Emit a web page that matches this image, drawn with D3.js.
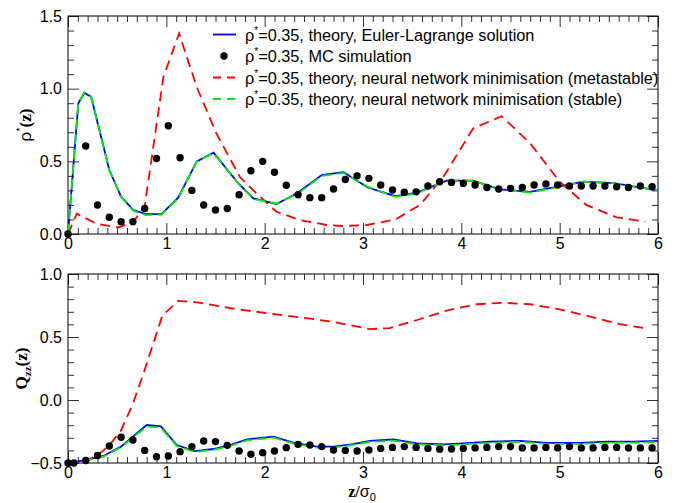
<!DOCTYPE html>
<html>
<head>
<meta charset="utf-8">
<script src="https://cdn.jsdelivr.net/npm/d3@7"></script>
<style>
  body { margin: 0; background: #fff; }
  svg { display: block; }
</style>
</head>
<body>
<div class="chart"></div>
<script>
let FRAME_WIDTH = 675;
let FRAME_HEIGHT = 503;
let MARGINS = {left: 68, right: 17};
let TOP_PANEL = {top: 16, bottom: 234};
let BOT_PANEL = {top: 274, bottom: 463};

// ---- top panel: density rho*(z) ----
let rhoElX = [0, 0.105, 0.165, 0.235, 0.42, 0.54, 0.665, 0.79, 0.95, 1.12, 1.31, 1.48, 1.73, 1.885, 2.12, 2.33, 2.58, 2.80, 3.05, 3.33, 3.55, 3.85, 4.12, 4.39, 4.70, 4.97, 5.24, 5.55, 5.78, 6.0];
let rhoElY = [0.0, 0.90, 0.97, 0.945, 0.44, 0.257, 0.165, 0.137, 0.137, 0.25, 0.50, 0.56, 0.35, 0.245, 0.206, 0.28, 0.405, 0.425, 0.32, 0.26, 0.285, 0.367, 0.367, 0.307, 0.29, 0.325, 0.36, 0.35, 0.325, 0.30];
let rhoStableY = [0.0, 0.90, 0.975, 0.945, 0.44, 0.255, 0.16, 0.13, 0.133, 0.245, 0.50, 0.555, 0.35, 0.24, 0.21, 0.275, 0.40, 0.42, 0.325, 0.255, 0.28, 0.37, 0.365, 0.31, 0.285, 0.32, 0.36, 0.35, 0.325, 0.30];

let rhoMetaX = [0, 0.09, 0.29, 0.51, 0.66, 0.78, 0.97, 1.13, 1.31, 1.51, 1.75, 1.885, 2.12, 2.36, 2.63, 2.80, 3.04, 3.33, 3.58, 3.82, 4.12, 4.41, 4.70, 5.0, 5.27, 5.58, 5.87];
let rhoMetaY = [0.0, 0.14, 0.07, 0.045, 0.08, 0.19, 1.08, 1.38, 1.01, 0.69, 0.39, 0.30, 0.153, 0.096, 0.062, 0.055, 0.062, 0.10, 0.20, 0.395, 0.727, 0.81, 0.624, 0.36, 0.20, 0.115, 0.085];

let mcX = [0, 0.18, 0.30, 0.42, 0.54, 0.66, 0.78, 0.90, 1.02, 1.14, 1.26, 1.38, 1.50, 1.62, 1.74, 1.86, 1.98, 2.10, 2.22, 2.34, 2.46, 2.58, 2.70, 2.82, 2.94, 3.06, 3.18, 3.30, 3.42, 3.54, 3.66, 3.78, 3.90, 4.02, 4.14, 4.26, 4.38, 4.50, 4.62, 4.74, 4.86, 4.98, 5.10, 5.22, 5.34, 5.46, 5.58, 5.70, 5.82, 5.94];
let rhoMcY = [0.0, 0.605, 0.20, 0.115, 0.085, 0.085, 0.175, 0.52, 0.745, 0.525, 0.30, 0.20, 0.165, 0.175, 0.27, 0.435, 0.50, 0.425, 0.335, 0.27, 0.25, 0.25, 0.31, 0.375, 0.40, 0.383, 0.337, 0.303, 0.287, 0.29, 0.33, 0.36, 0.355, 0.348, 0.337, 0.32, 0.31, 0.314, 0.32, 0.337, 0.344, 0.337, 0.33, 0.33, 0.33, 0.33, 0.325, 0.32, 0.33, 0.325];

// ---- bottom panel: order parameter Qzz(z) ----
let qElX = [0, 0.19, 0.36, 0.54, 0.80, 0.945, 1.105, 1.29, 1.48, 1.65, 1.82, 2.09, 2.29, 2.53, 2.70, 2.90, 3.07, 3.31, 3.55, 3.82, 4.02, 4.29, 4.60, 4.87, 5.21, 5.48, 5.75, 6.0];
let qElY = [-0.5, -0.476, -0.444, -0.37, -0.198, -0.21, -0.357, -0.405, -0.389, -0.357, -0.312, -0.29, -0.339, -0.37, -0.37, -0.35, -0.325, -0.312, -0.344, -0.352, -0.344, -0.331, -0.325, -0.34, -0.34, -0.331, -0.331, -0.325];
let qStableY = [-0.5, -0.48, -0.45, -0.375, -0.21, -0.22, -0.365, -0.412, -0.395, -0.365, -0.32, -0.298, -0.345, -0.378, -0.378, -0.357, -0.332, -0.322, -0.352, -0.36, -0.352, -0.34, -0.333, -0.348, -0.348, -0.34, -0.338, -0.335];

let qMetaX = [0, 0.18, 0.30, 0.42, 0.54, 0.66, 0.78, 0.96, 1.12, 1.31, 1.72, 2.36, 2.70, 3.07, 3.27, 3.55, 3.85, 4.16, 4.43, 4.70, 5.0, 5.34, 5.61, 5.90];
let qMetaY = [-0.5, -0.48, -0.44, -0.36, -0.24, -0.03, 0.24, 0.67, 0.786, 0.775, 0.72, 0.656, 0.62, 0.563, 0.57, 0.635, 0.71, 0.76, 0.772, 0.76, 0.72, 0.656, 0.603, 0.565];

let qMcX = [0, 0.06, 0.18, 0.30, 0.42, 0.54, 0.66, 0.78, 0.90, 1.02, 1.14, 1.26, 1.38, 1.50, 1.62, 1.74, 1.86, 1.98, 2.10, 2.22, 2.34, 2.46, 2.58, 2.70, 2.82, 2.94, 3.06, 3.18, 3.30, 3.42, 3.54, 3.66, 3.78, 3.90, 4.02, 4.14, 4.26, 4.38, 4.50, 4.62, 4.74, 4.86, 4.98, 5.10, 5.22, 5.34, 5.46, 5.58, 5.70, 5.82, 5.94];
let qMcY = [-0.5, -0.5, -0.48, -0.44, -0.365, -0.296, -0.317, -0.40, -0.45, -0.445, -0.41, -0.37, -0.325, -0.33, -0.36, -0.405, -0.43, -0.418, -0.405, -0.378, -0.352, -0.357, -0.37, -0.397, -0.40, -0.405, -0.397, -0.384, -0.376, -0.37, -0.376, -0.384, -0.39, -0.389, -0.384, -0.38, -0.376, -0.37, -0.37, -0.38, -0.38, -0.376, -0.38, -0.37, -0.38, -0.38, -0.376, -0.376, -0.38, -0.38, -0.38];

// ticks
let xMajor = [0, 1, 2, 3, 4, 5, 6];
let rhoMajor = [0, 0.5, 1.0, 1.5];
let qMajor = [-0.5, 0, 0.5, 1.0];

let legendLabels = ["=0.35, theory, Euler-Lagrange solution",
                    "=0.35, MC simulation",
                    "=0.35, theory, neural network minimisation (metastable)",
                    "=0.35, theory, neural network minimisation (stable)"];

let FRAME = d3.select(".chart")
              .append("svg")
              .attr("width", FRAME_WIDTH)
              .attr("height", FRAME_HEIGHT)
              .style("font-family", "'Liberation Sans', Arial, sans-serif");

const X_SCALE = d3.scaleLinear()
                  .domain([0, 6])
                  .range([MARGINS.left, FRAME_WIDTH - MARGINS.right]);

// minor tick positions every 0.1
function minorTicks(lo, hi) {
  let out = [];
  for (let i = Math.round(lo * 10); i <= Math.round(hi * 10); i++) out.push(i / 10);
  return out;
}

function drawPanel(yScale, yMajor, yFmt) {
  let x0 = X_SCALE.range()[0], x1 = X_SCALE.range()[1];
  let y0 = yScale.range()[0], y1 = yScale.range()[1];
  let xMinor = minorTicks(0, 6).filter(v => !xMajor.includes(v));
  let yd = yScale.domain();
  let yMinor = minorTicks(yd[0], yd[1]).filter(v => !yMajor.some(m => Math.abs(m - v) < 1e-9));

  let axes = [
    {gen: d3.axisBottom, t: [0, y0], s: X_SCALE, minor: xMinor, major: xMajor, fmt: d3.format("d"), label: true},
    {gen: d3.axisTop, t: [0, y1], s: X_SCALE, minor: xMinor, major: xMajor},
    {gen: d3.axisLeft, t: [x0, 0], s: yScale, minor: yMinor, major: yMajor, fmt: yFmt, label: true},
    {gen: d3.axisRight, t: [x1, 0], s: yScale, minor: yMinor, major: yMajor}
  ];
  axes.forEach(a => {
    let gMin = FRAME.append("g")
      .attr("transform", "translate(" + a.t[0] + "," + a.t[1] + ")")
      .call(a.gen(a.s).tickValues(a.minor).tickSize(-6).tickFormat(""));
    gMin.select(".domain").remove();
    let gMaj = FRAME.append("g")
      .attr("transform", "translate(" + a.t[0] + "," + a.t[1] + ")")
      .call(a.gen(a.s).tickValues(a.major).tickSize(-11).tickPadding(a.gen === d3.axisLeft ? 6 : 4)
              .tickFormat(a.label ? a.fmt : ""));
    gMaj.select(".domain").remove();
    gMaj.attr("font-size", "16px").attr("font-family", null);
    [gMin, gMaj].forEach(g => g.selectAll("line").attr("stroke", "#333"));
  });

  FRAME.append("rect")
    .attr("x", x0).attr("y", y1)
    .attr("width", x1 - x0).attr("height", y0 - y1)
    .attr("fill", "none").attr("stroke", "#000").attr("stroke-width", 1);
}

function drawSeries(yScale, xs, ys, color, dash) {
  let pts = xs.map((x, i) => [x, ys[i]]);
  FRAME.append("path")
    .datum(pts)
    .attr("d", d3.line().x(d => X_SCALE(d[0])).y(d => yScale(d[1])))
    .attr("fill", "none")
    .attr("stroke", color)
    .attr("stroke-width", 1.8)
    .attr("stroke-dasharray", dash);
}

function drawDots(yScale, xs, ys) {
  FRAME.append("g").selectAll("circle")
    .data(xs.map((x, i) => [x, ys[i]]))
    .enter()
    .append("circle")
      .attr("cx", d => X_SCALE(d[0]))
      .attr("cy", d => yScale(d[1]))
      .attr("r", 3.7)
      .attr("fill", "#000");
}

// top panel
const RHO_SCALE = d3.scaleLinear().domain([0, 1.5]).range([TOP_PANEL.bottom, TOP_PANEL.top]);
drawPanel(RHO_SCALE, rhoMajor, d3.format(".1f"));
drawSeries(RHO_SCALE, rhoElX, rhoElY, "#0000ff", null);
drawSeries(RHO_SCALE, rhoMetaX, rhoMetaY, "#ff0000", "10,6");
drawSeries(RHO_SCALE, rhoElX, rhoStableY, "#00ee00", "10,5");
drawDots(RHO_SCALE, mcX, rhoMcY);

// bottom panel
const Q_SCALE = d3.scaleLinear().domain([-0.5, 1.0]).range([BOT_PANEL.bottom, BOT_PANEL.top]);
drawPanel(Q_SCALE, qMajor, d3.format(".1f"));
drawSeries(Q_SCALE, qElX, qElY, "#0000ff", null);
drawSeries(Q_SCALE, qMetaX, qMetaY, "#ff0000", "10,6");
drawSeries(Q_SCALE, qElX, qStableY, "#00ee00", "10,5");
drawDots(Q_SCALE, qMcX, qMcY);

// legend
let legendRows = [34.5, 56, 77.5, 99];
let legend = FRAME.append("g");
legendRows.forEach((ly, i) => {
  if (i === 1) {
    legend.append("circle").attr("cx", 224).attr("cy", ly).attr("r", 3.7).attr("fill", "#000");
  } else {
    let st = [["#0000ff", null], null, ["#ff0000", "8,6"], ["#00ee00", "8,6"]][i];
    legend.append("line")
      .attr("x1", 213).attr("x2", 236).attr("y1", ly).attr("y2", ly)
      .attr("stroke", st[0]).attr("stroke-width", 1.8).attr("stroke-dasharray", st[1]);
  }
  let t = legend.append("text")
    .attr("x", 245).attr("y", ly + 6)
    .attr("font-size", "16.3px");
  t.append("tspan").text("ρ");
  t.append("tspan").attr("font-size", "10px").attr("dy", -7).text("*");
  t.append("tspan").attr("dy", 7).text(legendLabels[i]);
});

// axis titles
let serif = "'Liberation Serif', 'Times New Roman', serif";
let yt1 = FRAME.append("text")
  .attr("transform", "translate(31," + ((TOP_PANEL.top + TOP_PANEL.bottom) / 2) + ") rotate(-90)")
  .attr("text-anchor", "middle")
  .attr("font-size", "17px");
yt1.append("tspan").text("ρ");
yt1.append("tspan").attr("font-size", "11px").attr("dy", -7).text("*");
yt1.append("tspan").attr("dy", 7).attr("font-family", serif).attr("font-weight", "bold").text("(z)");

let yt2 = FRAME.append("text")
  .attr("transform", "translate(27," + ((BOT_PANEL.top + BOT_PANEL.bottom) / 2) + ") rotate(-90)")
  .attr("text-anchor", "middle")
  .attr("font-family", serif)
  .attr("font-weight", "bold")
  .attr("font-size", "17px");
yt2.append("tspan").text("Q");
yt2.append("tspan").attr("font-size", "11px").attr("dy", 4).text("zz");
yt2.append("tspan").attr("dy", -4).text("(z)");

let xt = FRAME.append("text")
  .attr("x", 362).attr("y", 497)
  .attr("text-anchor", "middle")
  .attr("font-size", "16px");
xt.append("tspan").attr("font-family", serif).attr("font-weight", "bold").text("z/");
xt.append("tspan").text("σ");
xt.append("tspan").attr("font-size", "11px").attr("dy", 4).text("0");
</script>
</body>
</html>
